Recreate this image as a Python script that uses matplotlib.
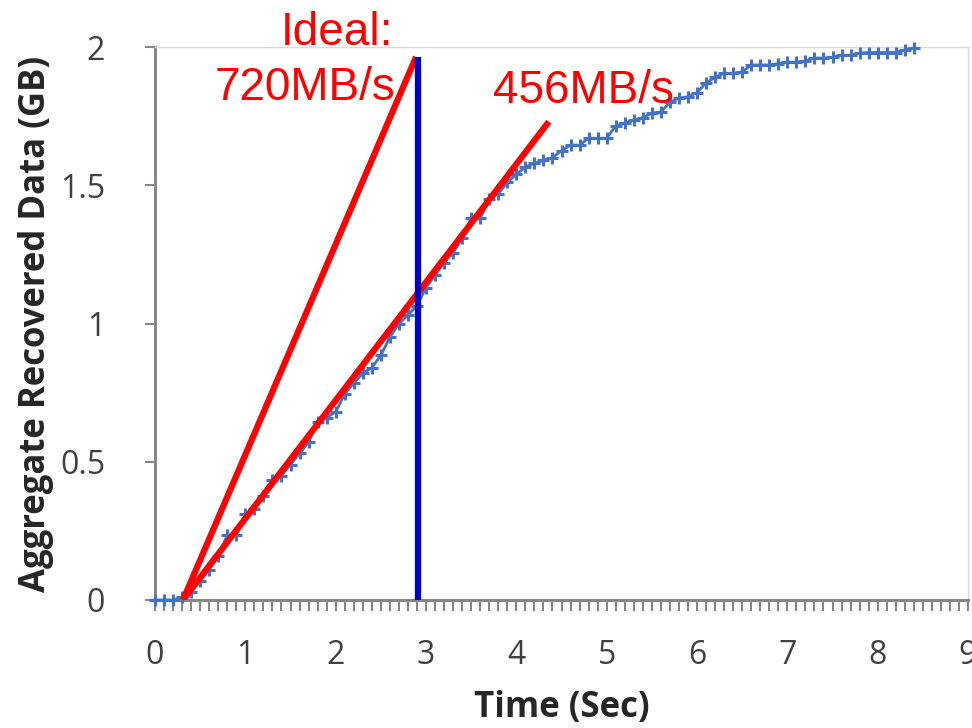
import matplotlib
matplotlib.use("Agg")
import matplotlib.pyplot as plt
import numpy as np
from matplotlib.ticker import MultipleLocator

# ---- data ----
time_sec = [round(0.1 * i, 1) for i in range(85)]
recovered_gb = [
    0.0, 0.0, 0.0, 0.01, 0.03, 0.07, 0.11, 0.16, 0.235, 0.235,
    0.31, 0.33, 0.375, 0.435, 0.45, 0.49, 0.53, 0.57, 0.645, 0.66,
    0.68, 0.745, 0.785, 0.82, 0.84, 0.885, 0.95, 1.0, 1.03, 1.065,
    1.13, 1.175, 1.22, 1.255, 1.31, 1.38, 1.38, 1.45, 1.47, 1.51,
    1.54, 1.565, 1.58, 1.59, 1.60, 1.625, 1.645, 1.645, 1.67, 1.67,
    1.67, 1.715, 1.725, 1.735, 1.745, 1.76, 1.765, 1.80, 1.815, 1.82,
    1.835, 1.87, 1.89, 1.905, 1.905, 1.91, 1.935, 1.935, 1.935, 1.94,
    1.945, 1.945, 1.95, 1.96, 1.96, 1.963, 1.97, 1.97, 1.978, 1.98,
    1.98, 1.98, 1.98, 1.99, 1.996,
]
ideal_x = [0.31, 2.89]
ideal_y = [0.0, 1.964]
measured_x = [0.31, 4.36]
measured_y = [0.0, 1.73]
marker_x = [2.915, 2.915]
marker_y = [0.0, 1.964]

x_ticks = [0, 1, 2, 3, 4, 5, 6, 7, 8, 9]
y_ticks = [0, 0.5, 1, 1.5, 2]
y_ticklabels = ["0", "0.5", "1", "1.5", "2"]

# ---- figure ----
fig = plt.figure(figsize=(9.72, 7.28), dpi=100)
ax = fig.add_axes([155 / 972, 128 / 728, 813 / 972, 553 / 728])

ax.plot(time_sec, recovered_gb, color="#4472C4", lw=2, marker="+",
        markersize=8, markeredgewidth=2.2, zorder=3, clip_on=False)
ax.plot(ideal_x, ideal_y, color="#FF0000", lw=4.5, solid_capstyle="butt", zorder=4)
ax.plot(measured_x, measured_y, color="#FF0000", lw=4.5, solid_capstyle="butt", zorder=4)
ax.plot(marker_x, marker_y, color="#0000CC", lw=4.5, solid_capstyle="butt", zorder=5)

ax.set_xlim(0, 9)
ax.set_ylim(0, 2)
ax.set_xticks(x_ticks)
ax.xaxis.set_minor_locator(MultipleLocator(0.1))
ax.set_yticks(y_ticks)
ax.set_yticklabels(y_ticklabels)

for lab in ax.get_xticklabels() + ax.get_yticklabels():
    lab.set_fontfamily("Open Sans")
    lab.set_fontsize(23)
    lab.set_color("#404040")

ax.tick_params(axis="y", which="major", direction="out", length=7, width=1.5,
               color="#878787", pad=29)
ax.tick_params(axis="x", which="both", direction="out", length=8, width=1.5,
               color="#878787", pad=20)

for side in ["left", "bottom"]:
    ax.spines[side].set_color("#878787")
    ax.spines[side].set_linewidth(2.2)
for side in ["top", "right"]:
    ax.spines[side].set_color("#D9D9D9")
    ax.spines[side].set_linewidth(1)

ax.set_xlabel("Time (Sec)", fontfamily="Open Sans", fontweight="bold",
              fontsize=25, color="#262626", labelpad=13)
ax.set_ylabel("Aggregate Recovered Data (GB)", fontfamily="Open Sans",
              fontweight="bold", fontsize=25, color="#262626", labelpad=4)

ann = dict(family="Liberation Sans", fontsize=33, color="#FF0000",
           ha="center", va="baseline", clip_on=False, zorder=6)
ax.text(2.02, 2.007, "Ideal:", **ann)
ax.text(1.66, 1.808, "720MB/s", **ann)
ax.text(4.74, 1.797, "456MB/s", **ann)

fig.savefig("out.png", dpi=100)
